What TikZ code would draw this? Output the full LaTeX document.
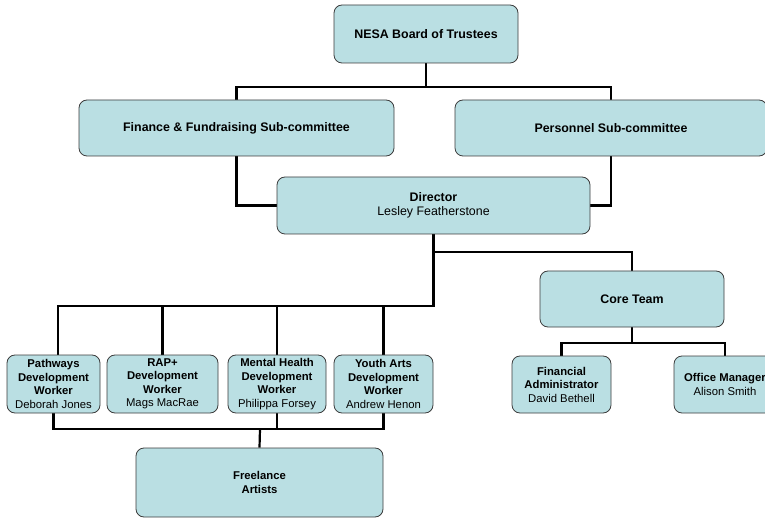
\documentclass[tikz,border=0pt]{standalone}
\usepackage{fontspec}
\setmainfont{Liberation Sans}
\usetikzlibrary{backgrounds}
\definecolor{boxfill}{RGB}{186,223,227}
\definecolor{boxedge}{RGB}{60,60,60}
\begin{document}
\begin{tikzpicture}[x=1pt,y=-1pt,
  orgbox/.style={draw=boxedge,line width=0.8pt,fill=boxfill,rounded corners=8pt,
    align=center,inner sep=0pt,font=\fontsize{11.3}{13.5}\selectfont},
  bigbox/.style={orgbox,font=\fontsize{12.4}{14}\selectfont},
  conn/.style={line width=2.2pt,black}]
\useasboundingbox (0,0) rectangle (765,518);
\node[bigbox,minimum width=184pt,minimum height=58pt] (nesa) at (426,34) {\textbf{NESA Board of Trustees}};
\node[bigbox,minimum width=315pt,minimum height=56pt] (fin) at (236.5,128) {\textbf{Finance \& Fundraising Sub-committee}};
\node[bigbox,minimum width=312pt,minimum height=56pt] (pers) at (611,128) {\textbf{Personnel Sub-committee}};
\node[bigbox,minimum width=313pt,minimum height=57pt] (dir) at (433.5,205.5) {\textbf{Director}\\Lesley Featherstone};
\node[bigbox,minimum width=184pt,minimum height=56pt] (core) at (632,299) {\textbf{Core Team}};
\node[orgbox,minimum width=93pt,minimum height=58pt] (path) at (53.5,384) {\textbf{Pathways}\\\textbf{Development}\\\textbf{Worker}\\Deborah Jones};
\node[orgbox,minimum width=111pt,minimum height=58pt] (rap) at (162.5,384) {\textbf{RAP+}\\\textbf{Development}\\\textbf{Worker}\\Mags MacRae};
\node[orgbox,minimum width=98pt,minimum height=58pt] (mh) at (277,384) {\textbf{Mental Health}\\\textbf{Development}\\\textbf{Worker}\\Philippa Forsey};
\node[orgbox,minimum width=99pt,minimum height=58pt] (ya) at (383.5,384) {\textbf{Youth Arts}\\\textbf{Development}\\\textbf{Worker}\\Andrew Henon};
\node[orgbox,minimum width=99pt,minimum height=57pt] (fa) at (561.5,384.5) {\textbf{Financial}\\\textbf{Administrator}\\David Bethell};
\node[orgbox,minimum width=102pt,minimum height=57pt] (om) at (725,384.5) {\textbf{Office Manager}\\Alison Smith};
\node[orgbox,minimum width=247pt,minimum height=69pt] (free) at (259.5,482.5) {\textbf{Freelance}\\\textbf{Artists}};
\coordinate (topbus) at (426,87);
\coordinate (dirbus) at (433.5,252);
\coordinate (wbus) at (433.5,306);
\coordinate (pathtop) at (58,355);
\coordinate (corebus) at (632,343);
\coordinate (fbus) at (260,429);
\begin{scope}[on background layer]
\draw[conn] (nesa.south) -- (topbus) -| (fin.north);
\draw[conn] (topbus) -| (pers.north);
\draw[conn] (fin.south) |- (dir.west);
\draw[conn] (pers.south) |- (dir.east);
\draw[conn] (dir.south) -- (dirbus) -| (core.north);
\draw[conn] (dirbus) -- (wbus) -| (pathtop);
\draw[conn] (rap.north) -- (rap.north |- wbus);
\draw[conn] (mh.north) -- (mh.north |- wbus);
\draw[conn] (ya.north) -- (ya.north |- wbus);
\draw[conn] (core.south) -- (corebus) -| (fa.north);
\draw[conn] (corebus) -| (om.north);
\draw[conn] (path.south) |- (fbus);
\draw[conn] (ya.south) |- (fbus);
\draw[conn] (mh.south) -- (mh.south |- fbus);
\draw[conn] (fbus) -- (free.north);
\end{scope}
\end{tikzpicture}
\end{document}
